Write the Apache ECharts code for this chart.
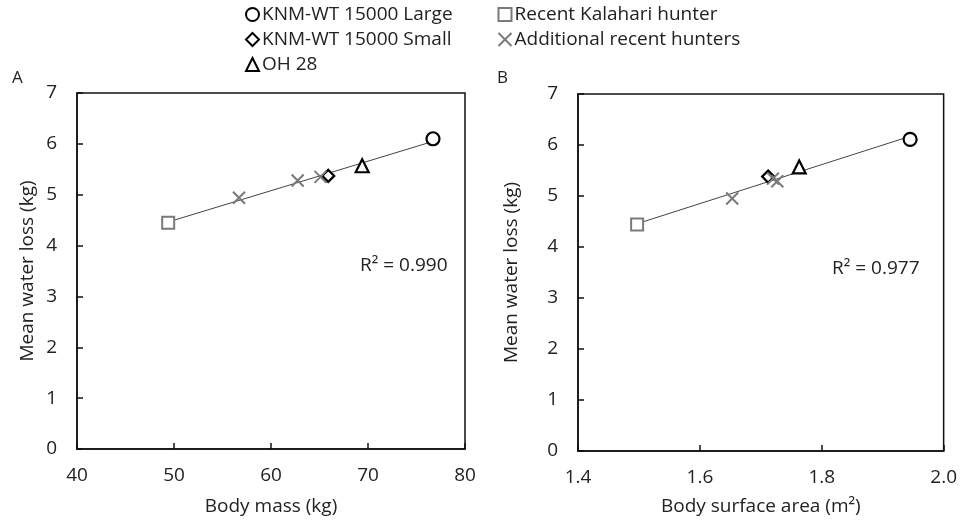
<!DOCTYPE html>
<html>
<head>
<meta charset="utf-8">
<script src="https://cdn.jsdelivr.net/npm/echarts@6/dist/echarts.min.js"></script>
<style>
  html, body { margin: 0; padding: 0; background: #fff; }
  #main { width: 960px; height: 523px; }
</style>
</head>
<body>
<div id="main"></div>
<script>
// panel A: body mass (kg) vs mean water loss (kg)
var massLarge = [[76.7, 6.10]];
var massSmall = [[65.9, 5.37]];
var massOH28 = [[69.4, 5.57]];
var massKalahari = [[49.4, 4.45]];
var massHunters = [[56.7, 4.94], [62.75, 5.28], [65.1, 5.35]];

// panel B: body surface area (m2) vs mean water loss (kg)
var bsaLarge = [[1.945, 6.11]];
var bsaSmall = [[1.712, 5.38]];
var bsaOH28 = [[1.763, 5.57]];
var bsaKalahari = [[1.497, 4.44]];
var bsaHunters = [[1.653, 4.95], [1.727, 5.29], [1.72, 5.34]];

var yTicks = [0, 1, 2, 3, 4, 5, 6, 7];
var massTicks = [40, 50, 60, 70, 80];
var bsaTicks = [1.4, 1.6, 1.8, 2.0];

var seriesNames = ['KNM-WT 15000 Large', 'KNM-WT 15000 Small', 'OH 28', 'Recent Kalahari hunter', 'Additional recent hunters'];
var r2Labels = ['R\u00b2 = 0.990', 'R\u00b2 = 0.977'];

var FONT = '"Open Sans", "Noto Sans", sans-serif';
var TXT = '#222';
var GREY = '#7a7a7a';
var crossPath = 'path://M0,0L10,10M10,0L0,10';

// least squares line through all points of a panel
function fitLine(groups) {
  var pts = [].concat.apply([], groups);
  var n = pts.length, sx = 0, sy = 0, sxx = 0, sxy = 0;
  var xmin = Infinity, xmax = -Infinity;
  pts.forEach(function (p) {
    sx += p[0]; sy += p[1]; sxx += p[0] * p[0]; sxy += p[0] * p[1];
    xmin = Math.min(xmin, p[0]); xmax = Math.max(xmax, p[0]);
  });
  var b = (n * sxy - sx * sy) / (n * sxx - sx * sx);
  var a = (sy - b * sx) / n;
  return [[xmin, a + b * xmin], [xmax, a + b * xmax]];
}

function markerSeries(idx, groups) {
  var styles = [
    { symbol: 'circle', size: 13, color: '#000', bw: 2.2 },
    { symbol: 'diamond', size: 12, color: '#000', bw: 2.2 },
    { symbol: 'triangle', size: 13, color: '#000', bw: 2.2 },
    { symbol: 'rect', size: 12, color: GREY, bw: 2 },
    { symbol: crossPath, size: 12, color: GREY, bw: 2 }
  ];
  return groups.map(function (data, i) {
    var s = styles[i];
    return {
      name: seriesNames[i],
      type: 'scatter',
      xAxisIndex: idx,
      yAxisIndex: idx,
      data: data,
      symbol: s.symbol,
      symbolSize: s.size,
      z: 3,
      itemStyle: { color: i === 4 ? 'none' : '#fff', borderColor: s.color, borderWidth: s.bw, opacity: 1 }
    };
  });
}

var massGroups = [massLarge, massSmall, massOH28, massKalahari, massHunters];
var bsaGroups = [bsaLarge, bsaSmall, bsaOH28, bsaKalahari, bsaHunters];

function xAxisCfg(idx, ticks, name, fmt, gap) {
  return {
    gridIndex: idx,
    type: 'value',
    min: ticks[0],
    max: ticks[ticks.length - 1],
    interval: ticks[1] - ticks[0],
    name: name,
    nameLocation: 'middle',
    nameGap: gap,
    nameTextStyle: { fontFamily: FONT, fontSize: 19, color: TXT },
    axisLine: { show: true, lineStyle: { color: '#111', width: 1.5 } },
    axisTick: { show: true, inside: true, length: 6, lineStyle: { color: '#111', width: 1.5 } },
    axisLabel: { margin: 17, fontFamily: FONT, fontSize: 19, color: TXT, formatter: fmt, showMinLabel: true, showMaxLabel: true },
    splitLine: { show: false }
  };
}

function yAxisCfg(idx, gap) {
  return {
    gridIndex: idx,
    type: 'value',
    min: yTicks[0],
    max: yTicks[yTicks.length - 1],
    interval: 1,
    name: 'Mean water loss (kg)',
    nameLocation: 'middle',
    nameGap: gap,
    nameTextStyle: { fontFamily: FONT, fontSize: 19, color: TXT },
    axisLine: { show: true, lineStyle: { color: '#111', width: 1.5 } },
    axisTick: { show: true, inside: true, length: 6, lineStyle: { color: '#111', width: 1.5 } },
    axisLabel: { margin: 20, fontFamily: FONT, fontSize: 19, color: TXT },
    splitLine: { show: false }
  };
}

function trendSeries(idx, groups) {
  return {
    type: 'line',
    xAxisIndex: idx,
    yAxisIndex: idx,
    data: fitLine(groups),
    symbol: 'none',
    silent: true,
    z: 2,
    lineStyle: { color: '#444', width: 1 }
  };
}

function legendCfg(names, left) {
  return {
    data: names,
    orient: 'vertical',
    left: left, top: 5,
    padding: 0,
    itemWidth: 13, itemHeight: 13, itemGap: 6,
    textStyle: { fontFamily: FONT, fontSize: 19, lineHeight: 19, color: TXT, padding: [0, 0, 0, -2] },
    selectedMode: false
  };
}

var chart = echarts.init(document.getElementById('main'), null, { renderer: 'canvas' });
chart.setOption({
  backgroundColor: '#fff',
  animation: false,
  textStyle: { fontFamily: FONT },
  legend: [
    legendCfg(seriesNames.slice(0, 3), 245),
    legendCfg(seriesNames.slice(3), 496)
  ],
  grid: [
    { left: 77, right: 495, top: 93, bottom: 74, show: true, borderColor: '#111', borderWidth: 1.5, backgroundColor: 'transparent' },
    { left: 578, right: 14, top: 94, bottom: 72, show: true, borderColor: '#111', borderWidth: 1.5, backgroundColor: 'transparent' }
  ],
  xAxis: [
    xAxisCfg(0, massTicks, 'Body mass (kg)', function (v) { return String(v); }, 48),
    xAxisCfg(1, bsaTicks, 'Body surface area (m\u00b2)', function (v) { return v.toFixed(1); }, 46)
  ],
  yAxis: [yAxisCfg(0, 40), yAxisCfg(1, 57)],
  graphic: [
    { type: 'text', left: 12, top: 70, style: { text: 'A', font: '17px ' + FONT, fill: TXT } },
    { type: 'text', left: 497, top: 70, style: { text: 'B', font: '17px ' + FONT, fill: TXT } },
    { type: 'text', left: 360, top: 256, style: { text: r2Labels[0], font: '19px ' + FONT, fill: TXT } },
    { type: 'text', left: 832, top: 259, style: { text: r2Labels[1], font: '19px ' + FONT, fill: TXT } }
  ],
  series: [trendSeries(0, massGroups), trendSeries(1, bsaGroups)]
    .concat(markerSeries(0, massGroups))
    .concat(markerSeries(1, bsaGroups))
});
</script>
</body>
</html>
